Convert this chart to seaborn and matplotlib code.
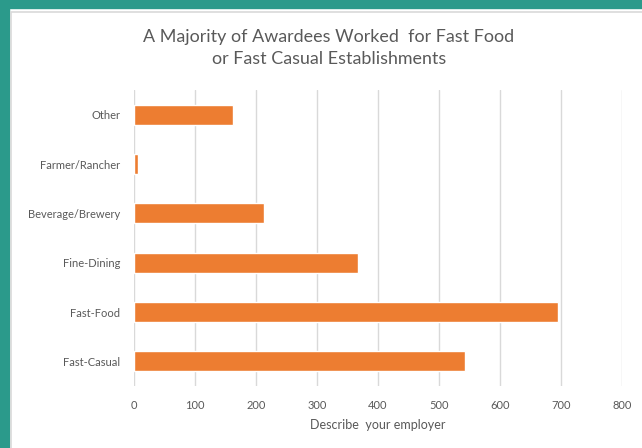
import matplotlib
matplotlib.use('Agg')
import matplotlib.pyplot as plt
from matplotlib.patches import Rectangle
import seaborn as sns
import pandas as pd

# 数据
categories = ['Other', 'Farmer/Rancher', 'Beverage/Brewery', 'Fine-Dining', 'Fast-Food', 'Fast-Casual']
counts = [162, 7, 213, 367, 695, 543]
x_ticks = [0, 100, 200, 300, 400, 500, 600, 700, 800]

title = 'A Majority of Awardees Worked  for Fast Food\nor Fast Casual Establishments'
x_label = 'Describe  your employer'

orange = '#ED7D31'
teal = '#2B9A8B'
grey_text = '#595959'

sns.set_theme(style='white')
plt.rcParams['font.family'] = ['Lato', 'DejaVu Sans']

df = pd.DataFrame({'category': categories, 'count': counts})

fig = plt.figure(figsize=(6.42, 4.48), dpi=100)
W, H = 642, 448

# 边框 (teal frame)
fig.patches.append(Rectangle((0, 0), 9 / W, 1, transform=fig.transFigure, color=teal, zorder=0))
fig.patches.append(Rectangle((0, 1 - 8 / H), 1, 8 / H, transform=fig.transFigure, color=teal, zorder=0))
fig.patches.append(Rectangle((11.5 / W, -0.1), 1.2, 1 - 11.5 / H + 0.1, transform=fig.transFigure,
                             fill=False, edgecolor='#d9d9d9', linewidth=1.2, zorder=0))

ax = fig.add_axes([134 / W, 1 - 386 / H, (622 - 134) / W, (386 - 90) / H])
sns.barplot(data=df, x='count', y='category', order=categories, color=orange,
            saturation=1, width=0.4, ax=ax)

ax.set_xlim(0, 800)
ax.set_xticks(x_ticks)
ax.xaxis.grid(True, color='#d9d9d9', linewidth=1)
ax.set_axisbelow(True)
for s in ax.spines.values():
    s.set_visible(False)
ax.tick_params(axis='both', length=0, labelsize=8, labelcolor=grey_text)
ax.tick_params(axis='x', pad=10)
ax.tick_params(axis='y', pad=10)
ax.set_ylabel('')
ax.set_xlabel(x_label, fontsize=9, color=grey_text, labelpad=6)

fig.text(0.5 + 8 / W, 1 - 48 / H, title, ha='center', va='center', fontsize=12.9,
         color=grey_text, linespacing=1.4)

fig.savefig('out.png', dpi=100)
